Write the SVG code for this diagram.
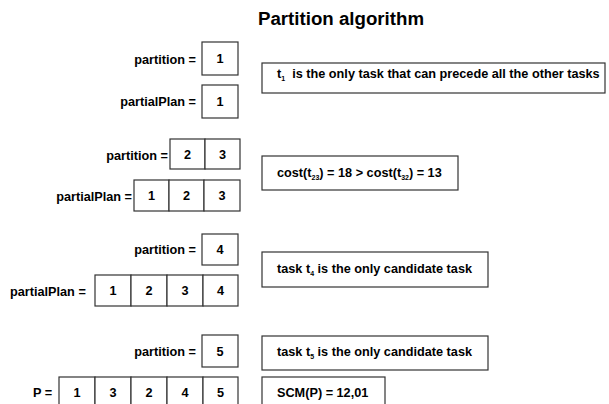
<svg xmlns="http://www.w3.org/2000/svg" width="609" height="404" viewBox="0 0 609 404">
<style>
text{font-family:"Liberation Sans",Arial,sans-serif;font-weight:bold;fill:#000}
.t{font-size:12.7px}
.c{font-size:12.7px;text-anchor:middle}
.r{font-size:12.7px;text-anchor:end}
.s{font-size:7px}
.title{font-size:18.7px;text-anchor:middle}
rect{fill:#fff;stroke:#333;stroke-width:1.2}
</style>
<rect x="0" y="0" width="609" height="404" style="fill:#fff;stroke:none"/>
<text class="title" x="341" y="25">Partition algorithm</text>

<g id="step1">
<text class="r" x="196" y="64">partition =</text>
<rect x="202" y="42" width="36" height="33"/>
<text class="c" x="220" y="63">1</text>
<text class="r" x="196" y="106">partialPlan =</text>
<rect x="202" y="85" width="36" height="33"/>
<text class="c" x="220" y="106">1</text>
<rect x="262" y="63" width="343" height="30"/>
<text class="t" x="277" y="78">t<tspan class="s" dy="3">1</tspan><tspan dy="-3" xml:space="preserve">  is the only task that can precede all the other tasks</tspan></text>
</g>

<g id="step2">
<text class="r" x="168" y="160">partition =</text>
<rect x="170" y="139" width="35" height="30"/>
<rect x="205" y="139" width="35" height="30"/>
<text class="c" x="187.5" y="159">2</text>
<text class="c" x="222.5" y="159">3</text>
<text class="r" x="132" y="201">partialPlan =</text>
<rect x="134" y="180" width="35" height="31"/>
<rect x="169" y="180" width="35" height="31"/>
<rect x="204" y="180" width="36" height="31"/>
<text class="c" x="151.5" y="200">1</text>
<text class="c" x="186.5" y="200">2</text>
<text class="c" x="222" y="200">3</text>
<rect x="262" y="156" width="196" height="34"/>
<text class="t" x="277" y="177">cost(t<tspan class="s" dy="3">23</tspan><tspan dy="-3">) = 18 &gt; cost(t</tspan><tspan class="s" dy="3">32</tspan><tspan dy="-3">) = 13</tspan></text>
</g>

<g id="step3">
<text class="r" x="196" y="254">partition =</text>
<rect x="202" y="234" width="36" height="31"/>
<text class="c" x="220" y="254">4</text>
<text class="t" x="10" y="296">partialPlan =</text>
<rect x="95" y="275" width="36" height="31"/>
<rect x="131" y="275" width="36" height="31"/>
<rect x="167" y="275" width="36" height="31"/>
<rect x="203" y="275" width="35" height="31"/>
<text class="c" x="113" y="295">1</text>
<text class="c" x="149" y="295">2</text>
<text class="c" x="185" y="295">3</text>
<text class="c" x="220.5" y="295">4</text>
<rect x="262" y="252" width="226" height="35"/>
<text class="t" x="277" y="273">task t<tspan class="s" dy="3">4</tspan><tspan dy="-3"> is the only candidate task</tspan></text>
</g>

<g id="step4">
<text class="r" x="196" y="356">partition =</text>
<rect x="202" y="335" width="36" height="32"/>
<text class="c" x="220" y="356">5</text>
<text class="t" x="33" y="397">P =</text>
<rect x="59" y="377" width="36" height="32"/>
<rect x="95" y="377" width="36" height="32"/>
<rect x="131" y="377" width="36" height="32"/>
<rect x="167" y="377" width="36" height="32"/>
<rect x="203" y="377" width="35" height="32"/>
<text class="c" x="77" y="397">1</text>
<text class="c" x="113" y="397">3</text>
<text class="c" x="149" y="397">2</text>
<text class="c" x="185" y="397">4</text>
<text class="c" x="220.5" y="397">5</text>
<rect x="262" y="336" width="226" height="34"/>
<text class="t" x="277" y="356">task t<tspan class="s" dy="3">5</tspan><tspan dy="-3"> is the only candidate task</tspan></text>
<rect x="262" y="377" width="123" height="32"/>
<text class="t" x="277" y="397">SCM(P) = 12,01</text>
</g>
<g id="connectors"></g>
</svg>
